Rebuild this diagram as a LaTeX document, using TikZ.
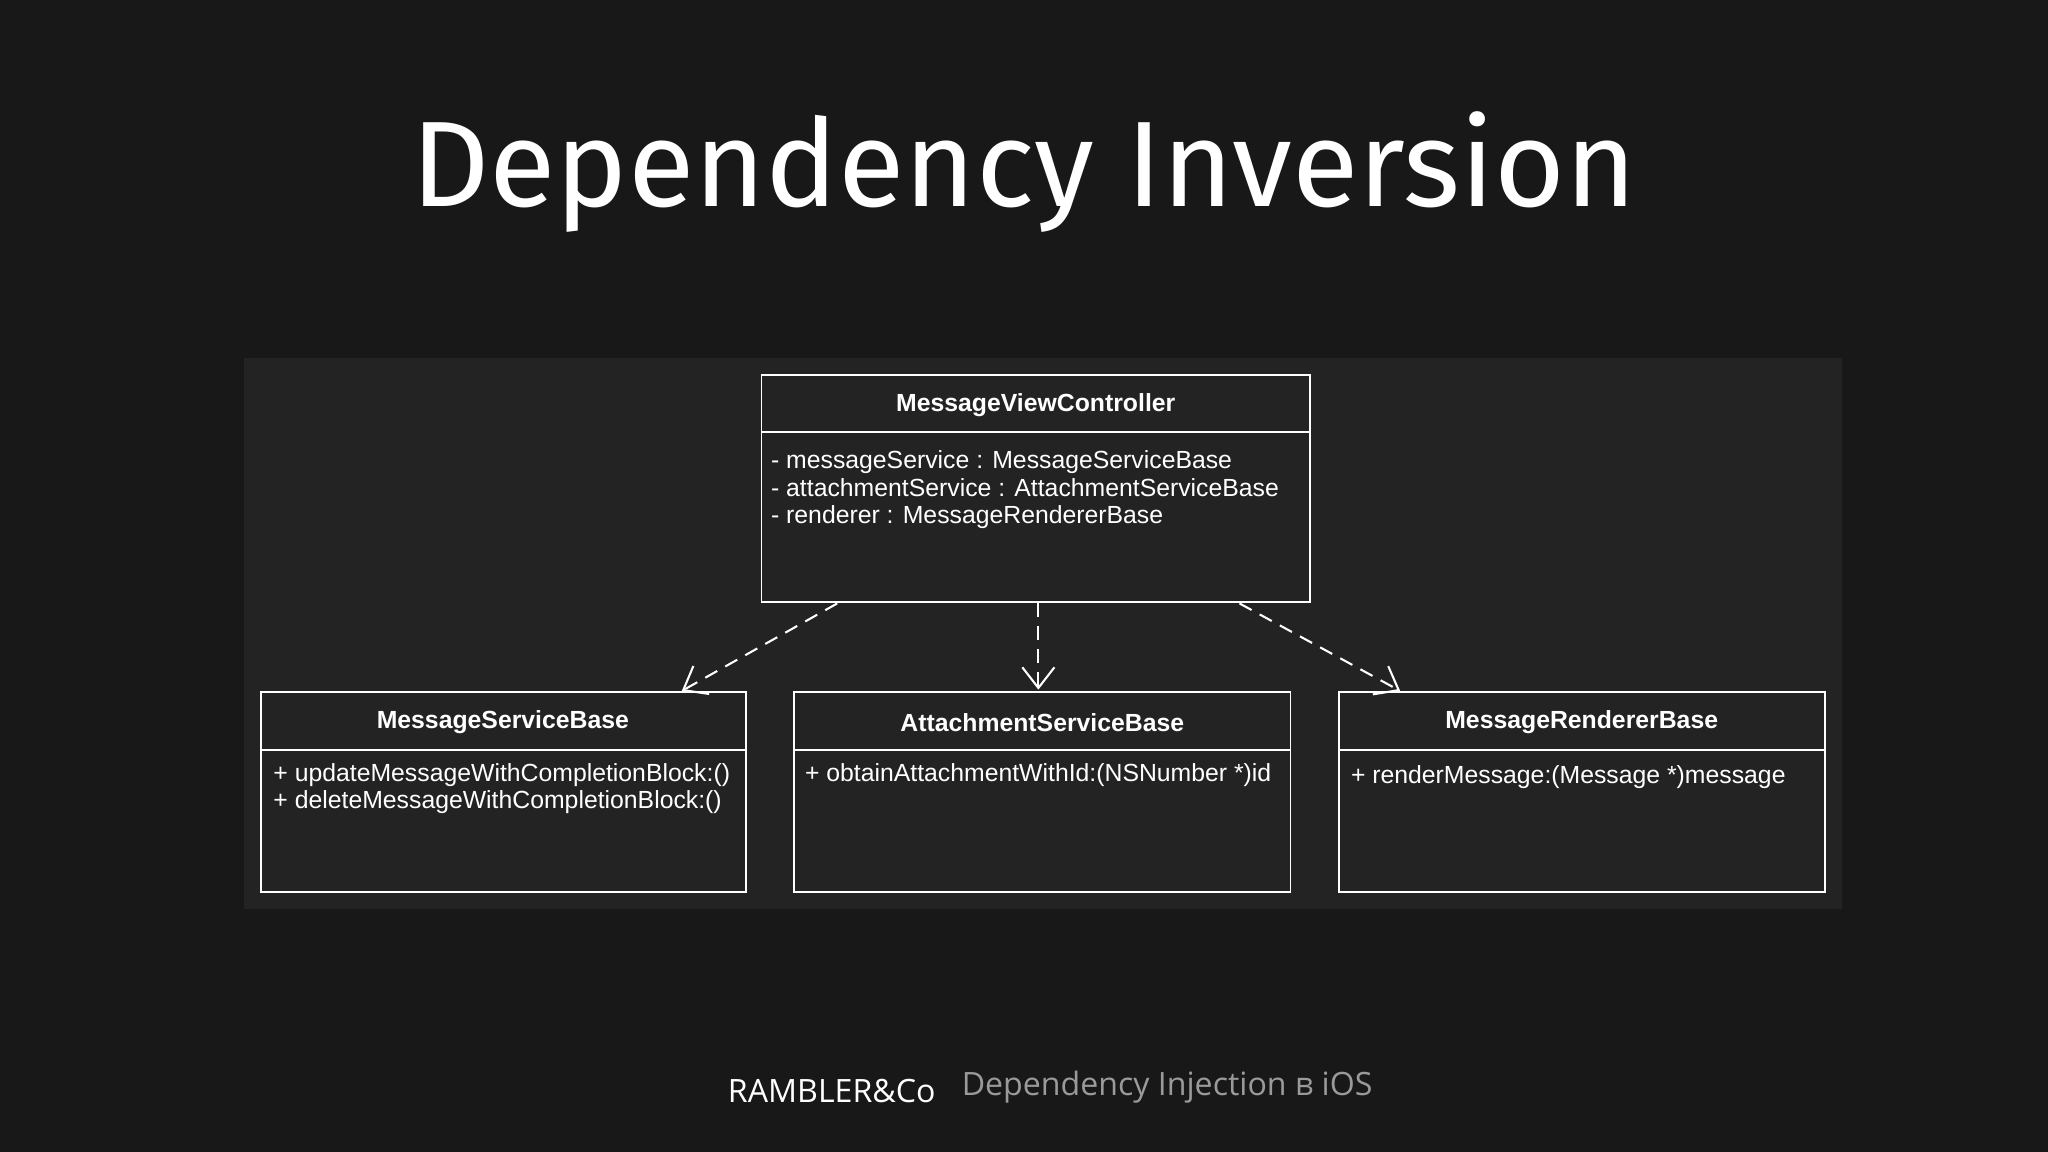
\documentclass[tikz,border=0pt]{standalone}
\usepackage{fontspec}
\setmainfont{Liberation Sans}
\newfontfamily\titlefont[FontFace={m}{n}{Fira Sans Medium}]{Fira Sans}
\newfontfamily\footfont{Open Sans}
\usetikzlibrary{arrows.meta}
\definecolor{bg}{HTML}{181818}
\definecolor{panel}{HTML}{232323}
\definecolor{foot}{HTML}{9A9A9A}
\tikzset{
  memb/.style={text=white, anchor=base west, font=\fontsize{10.8}{12}\selectfont, inner sep=0pt},
  head/.style={text=white, font=\bfseries\fontsize{10.8}{12}\selectfont, inner sep=0pt},
  dep/.style={draw=white, line width=0.9pt, dash pattern=on 6pt off 4pt, -{Straight Barb[length=9pt,width=14pt]}}
}
\begin{document}
\begin{tikzpicture}[x=0.02cm,y=-0.02cm]
\fill[bg] (0,0) rectangle (1568,882);
\useasboundingbox (0,0) rectangle (1568,882);
\node[text=white, font=\titlefont\fontsize{53}{60}\selectfont] (title) at (784,132) {Dependency Inversion};
\fill[panel] (187,274) rectangle (1410,696);
% MVC
\draw[white, line width=0.8pt, fill=panel] (583,287) rectangle (1003,461);
\draw[white, line width=0.8pt] (583,331) -- (1003,331);
\node[head] (mvc) at (793,310) {MessageViewController};
\node[memb] (m1) at (590,359) {- messageService : MessageServiceBase};
\node[memb] (m2) at (590,380) {- attachmentService : AttachmentServiceBase};
\node[memb] (m3) at (590,401) {- renderer : MessageRendererBase};
% lower boxes
\draw[white, line width=0.8pt, fill=panel] (200,530) rectangle (571,683);
\draw[white, line width=0.8pt] (200,574) -- (571,574);
\node[head] (msb) at (385,553) {MessageServiceBase};
\node[memb] (s1) at (209,598) {+ updateMessageWithCompletionBlock:()};
\node[memb] (s2) at (209,619) {+ deleteMessageWithCompletionBlock:()};
\draw[white, line width=0.8pt, fill=panel] (608,530) rectangle (988,683);
\draw[white, line width=0.8pt] (608,574) -- (988,574);
\node[head] (asb) at (798,553) {AttachmentServiceBase};
\node[memb] (a1) at (616,598) {+ obtainAttachmentWithId:(NSNumber *)id};
\draw[white, line width=0.8pt, fill=panel] (1025,530) rectangle (1397,683);
\draw[white, line width=0.8pt] (1025,574) -- (1397,574);
\node[head] (mrb) at (1211,553) {MessageRendererBase};
\node[memb] (r1) at (1034,600) {+ renderMessage:(Message *)message};
% arrows
\coordinate (o1) at (641,462); \coordinate (t1) at (522,529);
\coordinate (o2) at (795,462); \coordinate (t2) at (795,528);
\coordinate (o3) at (949,462); \coordinate (t3) at (1072,529);
\draw[dep] (o1) -- (t1);
\draw[dep] (o2) -- (t2);
\draw[dep] (o3) -- (t3);
% footer
\node[text=white, anchor=west, font=\footfont\fontsize{14}{16}\selectfont, inner sep=0pt] (logo) at (557,835) {RAMBLER\&Co};
\node[text=foot, anchor=west, font=\footfont\fontsize{14}{16}\selectfont, inner sep=0pt] (sub) at (736,832) {Dependency Injection в iOS};
\end{tikzpicture}
\end{document}
